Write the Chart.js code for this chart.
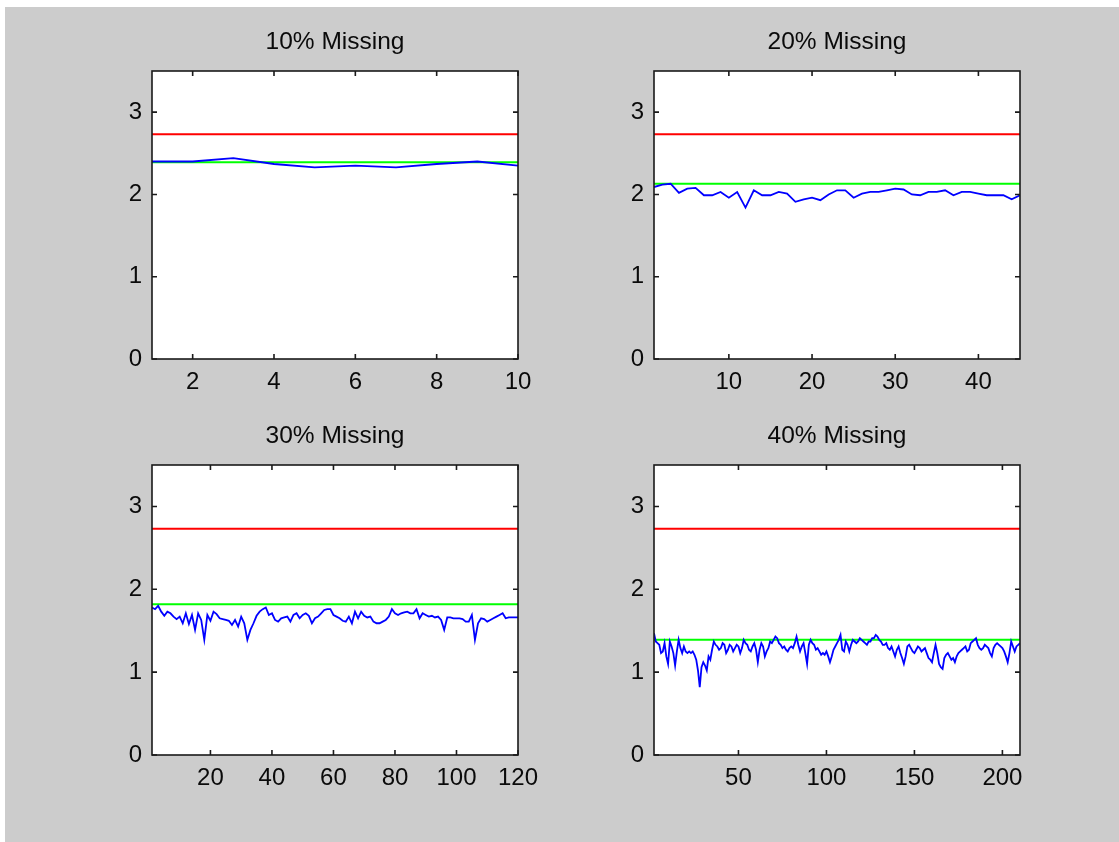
<!DOCTYPE html>
<html>
<head>
<meta charset="utf-8">
<script src="https://cdn.jsdelivr.net/npm/chart.js@4.4.0/dist/chart.umd.min.js"></script>
<style>
    html, body { margin: 0; padding: 0; background: #ffffff; }
    #fig { position: absolute; left: 5px; top: 7px; width: 1114px; height: 835px; background: #cccccc; }
    canvas { position: absolute; }
</style>
</head>
<body>
<div id="fig"></div>
<canvas id="p1"></canvas>
<canvas id="p2"></canvas>
<canvas id="p3"></canvas>
<canvas id="p4"></canvas>
<script>
// titles and tick labels
const titles = ['10% Missing', '20% Missing', '30% Missing', '40% Missing'];
const xRanges = [[1, 10], [1, 45], [1, 120], [2, 210]];
const xTicks = [
    [2, 4, 6, 8, 10],
    [10, 20, 30, 40],
    [20, 40, 60, 80, 100, 120],
    [50, 100, 150, 200]
];
const yTicks = [0, 1, 2, 3];

// reference levels (red = upper, green = lower)
const redLevel = [2.73, 2.73, 2.73, 2.73];
const greenLevel = [2.39, 2.13, 1.82, 1.39];

// blue series
const blue10 = [2.40, 2.40, 2.44, 2.37, 2.33, 2.35, 2.33, 2.37, 2.40, 2.35];

const blue20 = [
    2.09, 2.12, 2.13, 2.02, 2.07, 2.08, 1.99, 1.99, 2.03, 1.96,
    2.03, 1.84, 2.05, 1.99, 1.99, 2.03, 2.01, 1.91, 1.94, 1.96,
    1.93, 2.00, 2.05, 2.05, 1.96, 2.01, 2.03, 2.03, 2.05, 2.07,
    2.06, 2.00, 1.99, 2.03, 2.03, 2.05, 1.99, 2.03, 2.03, 2.01,
    1.99, 1.99, 1.99, 1.94, 1.99
];

const blue30 = [
    1.78, 1.76, 1.80, 1.73, 1.68, 1.73, 1.71, 1.67, 1.64, 1.67,
    1.59, 1.71, 1.58, 1.69, 1.51, 1.71, 1.63, 1.39, 1.69, 1.62,
    1.73, 1.70, 1.65, 1.64, 1.63, 1.62, 1.57, 1.63, 1.55, 1.67,
    1.59, 1.39, 1.51, 1.59, 1.68, 1.73, 1.76, 1.78, 1.69, 1.71,
    1.63, 1.61, 1.65, 1.66, 1.67, 1.61, 1.69, 1.71, 1.65, 1.69,
    1.71, 1.68, 1.59, 1.65, 1.67, 1.71, 1.75, 1.76, 1.76, 1.69,
    1.67, 1.65, 1.62, 1.61, 1.67, 1.59, 1.73, 1.65, 1.73, 1.68,
    1.66, 1.67, 1.61, 1.59, 1.59, 1.61, 1.63, 1.67, 1.76, 1.71,
    1.69, 1.71, 1.72, 1.73, 1.71, 1.71, 1.76, 1.65, 1.71, 1.69,
    1.67, 1.68, 1.66, 1.67, 1.63, 1.51, 1.66, 1.66, 1.65, 1.65,
    1.65, 1.64, 1.61, 1.61, 1.69, 1.39, 1.59, 1.65, 1.64, 1.61,
    1.63, 1.65, 1.67, 1.69, 1.71, 1.65, 1.66, 1.66, 1.66, 1.66
];

const blue40 = [
    1.47, 1.37, 1.35, 1.33, 1.23, 1.25, 1.35, 1.19, 1.10, 1.37,
    1.31, 1.23, 1.08, 1.25, 1.39, 1.29, 1.23, 1.31, 1.25, 1.23,
    1.25, 1.23, 1.25, 1.21, 1.15, 1.02, 0.82, 1.06, 1.12, 1.08,
    1.02, 1.19, 1.15, 1.27, 1.37, 1.33, 1.31, 1.27, 1.29, 1.35,
    1.33, 1.23, 1.27, 1.33, 1.31, 1.25, 1.29, 1.33, 1.31, 1.23,
    1.29, 1.39, 1.35, 1.33, 1.27, 1.25, 1.31, 1.35, 1.27, 1.12,
    1.27, 1.35, 1.31, 1.19, 1.25, 1.29, 1.37, 1.35, 1.39, 1.43,
    1.41, 1.35, 1.33, 1.29, 1.31, 1.27, 1.25, 1.29, 1.31, 1.29,
    1.35, 1.43, 1.33, 1.25, 1.31, 1.35, 1.23, 1.10, 1.33, 1.39,
    1.35, 1.33, 1.27, 1.29, 1.25, 1.21, 1.23, 1.21, 1.25, 1.19,
    1.12, 1.19, 1.27, 1.31, 1.35, 1.39, 1.45, 1.27, 1.25, 1.37,
    1.33, 1.25, 1.33, 1.39, 1.37, 1.35, 1.37, 1.41, 1.39, 1.37,
    1.35, 1.33, 1.37, 1.37, 1.41, 1.41, 1.45, 1.43, 1.39, 1.37,
    1.33, 1.33, 1.35, 1.29, 1.27, 1.31, 1.25, 1.19, 1.27, 1.31,
    1.23, 1.17, 1.10, 1.19, 1.31, 1.33, 1.29, 1.25, 1.23, 1.27,
    1.31, 1.29, 1.25, 1.27, 1.29, 1.23, 1.17, 1.15, 1.12, 1.23,
    1.33, 1.23, 1.10, 1.06, 1.04, 1.17, 1.21, 1.23, 1.19, 1.15,
    1.17, 1.12, 1.19, 1.23, 1.25, 1.27, 1.29, 1.31, 1.25, 1.27,
    1.35, 1.37, 1.39, 1.41, 1.33, 1.29, 1.27, 1.29, 1.33, 1.31,
    1.29, 1.23, 1.19, 1.29, 1.33, 1.35, 1.33, 1.31, 1.29, 1.25,
    1.19, 1.12, 1.23, 1.37, 1.31, 1.25, 1.31, 1.33, 1.35
];

const blueSeries = [blue10, blue20, blue30, blue40];

// axes boxes in page pixels: left, top, width, height
const boxes = [
    [152, 71, 366, 288],
    [654, 71, 366, 288],
    [152, 465, 366, 290],
    [654, 465, 366, 290]
];

const FONT = "'Liberation Sans', Arial, Helvetica, sans-serif";
const PAD_L = 100, PAD_R = 100, PAD_T = 71, PAD_B = 50;
const TITLE_SIZE = 24.5;
const TICK_SIZE = 24;

// white axes background behind the lines
const bgPlugin = {
    id: 'axesBg',
    beforeDatasetsDraw(chart) {
        const a = chart.chartArea;
        chart.ctx.save();
        chart.ctx.fillStyle = '#ffffff';
        chart.ctx.fillRect(a.left, a.top, a.right - a.left, a.bottom - a.top);
        chart.ctx.restore();
    }
};

// MATLAB-like box with ticks pointing inward on all four sides
const boxPlugin = {
    id: 'matlabBox',
    afterDraw(chart) {
        const ctx = chart.ctx;
        const a = chart.chartArea;
        const xs = chart.scales.x, ys = chart.scales.y;
        const len = 5;
        ctx.save();
        ctx.strokeStyle = '#1a1a1a';
        ctx.lineWidth = 1.6;
        ctx.strokeRect(a.left, a.top, a.right - a.left, a.bottom - a.top);
        ctx.beginPath();
        xs.ticks.forEach(t => {
            const px = xs.getPixelForValue(t.value);
            ctx.moveTo(px, a.bottom); ctx.lineTo(px, a.bottom - len);
            ctx.moveTo(px, a.top); ctx.lineTo(px, a.top + len);
        });
        ys.ticks.forEach(t => {
            const py = ys.getPixelForValue(t.value);
            ctx.moveTo(a.left, py); ctx.lineTo(a.left + len, py);
            ctx.moveTo(a.right, py); ctx.lineTo(a.right - len, py);
        });
        ctx.stroke();
        ctx.restore();
    }
};

function makePlot(i) {
    const canvas = document.getElementById('p' + (i + 1));
    const [bl, bt, bw, bh] = boxes[i];
    canvas.width = PAD_L + bw + PAD_R;
    canvas.height = PAD_T + bh + PAD_B;
    canvas.style.left = (bl - PAD_L) + 'px';
    canvas.style.top = (bt - PAD_T) + 'px';

    const [xmin, xmax] = xRanges[i];
    const blue = blueSeries[i].map((v, k) => ({ x: xmin + k, y: v }));
    const titleTop = 27.3;

    new Chart(canvas.getContext('2d'), {
        type: 'line',
        data: {
            datasets: [
                {
                    data: blue,
                    borderColor: '#0000ff',
                    borderWidth: 1.8,
                    pointRadius: 0,
                    tension: 0
                },
                {
                    data: [{ x: xmin, y: greenLevel[i] }, { x: xmax, y: greenLevel[i] }],
                    borderColor: '#00ff00',
                    borderWidth: 2,
                    pointRadius: 0
                },
                {
                    data: [{ x: xmin, y: redLevel[i] }, { x: xmax, y: redLevel[i] }],
                    borderColor: '#ff0000',
                    borderWidth: 2,
                    pointRadius: 0
                }
            ]
        },
        options: {
            responsive: false,
            animation: false,
            events: [],
            layout: { padding: { left: 0, right: PAD_R, top: 0, bottom: 0 } },
            plugins: {
                legend: { display: false },
                tooltip: { enabled: false },
                title: {
                    display: true,
                    fullSize: false,
                    text: titles[i],
                    color: '#0a0a0a',
                    font: { family: FONT, size: TITLE_SIZE, weight: 'normal', lineHeight: 1.2 },
                    padding: { top: titleTop, bottom: PAD_T - titleTop - TITLE_SIZE * 1.2 }
                }
            },
            scales: {
                x: {
                    type: 'linear',
                    min: xmin,
                    max: xmax,
                    afterBuildTicks: s => { s.ticks = xTicks[i].map(v => ({ value: v })); },
                    afterFit: s => { s.height = PAD_B; },
                    grid: { display: false, drawTicks: false },
                    border: { display: false },
                    ticks: {
                        color: '#0a0a0a',
                        font: { family: FONT, size: TICK_SIZE },
                        padding: 9,
                        maxRotation: 0,
                        autoSkip: false
                    }
                },
                y: {
                    type: 'linear',
                    min: 0,
                    max: 3.5,
                    afterBuildTicks: s => { s.ticks = yTicks.map(v => ({ value: v })); },
                    afterFit: s => { s.width = PAD_L; },
                    grid: { display: false, drawTicks: false },
                    border: { display: false },
                    ticks: {
                        color: '#0a0a0a',
                        font: { family: FONT, size: TICK_SIZE },
                        padding: 10
                    }
                }
            }
        },
        plugins: [bgPlugin, boxPlugin]
    });
}

for (let i = 0; i < 4; i++) makePlot(i);
</script>
</body>
</html>
